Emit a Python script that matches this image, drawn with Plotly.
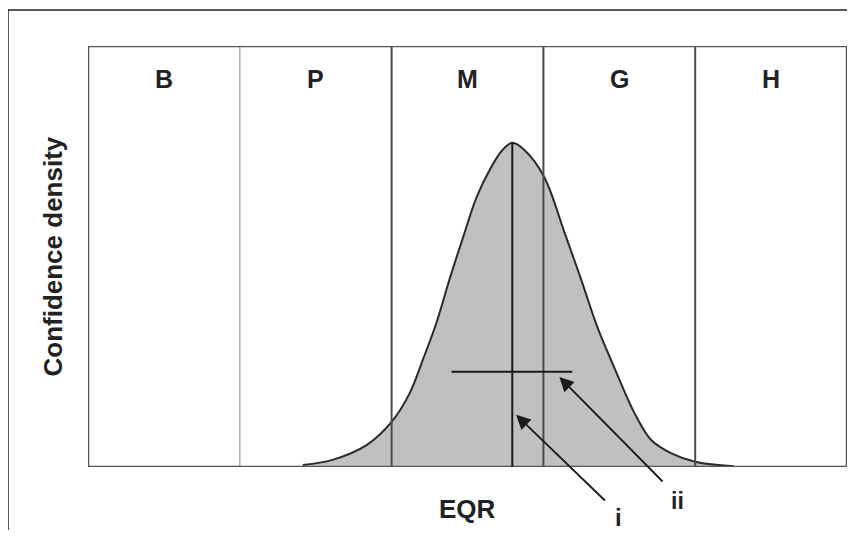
import plotly.graph_objects as go

# EQR scale 0..1, five status classes
classes = ["B", "P", "M", "G", "H"]
class_edges = [0.0, 0.2, 0.4, 0.6, 0.8, 1.0]

# confidence density curve
eqr = [0.283, 0.322, 0.367, 0.400, 0.424, 0.441, 0.459, 0.476, 0.493, 0.512,
       0.529, 0.546, 0.559, 0.575, 0.601, 0.628, 0.650, 0.671, 0.693, 0.720,
       0.742, 0.768, 0.801, 0.851]
density = [0.005, 0.017, 0.052, 0.107, 0.176, 0.254, 0.342, 0.444, 0.539, 0.641,
           0.705, 0.753, 0.770, 0.753, 0.689, 0.556, 0.444, 0.333, 0.238, 0.128,
           0.064, 0.033, 0.012, 0.002]

# (i) observed EQR, (ii) interval around it
eqr_obs = 0.559
peak = 0.770
ci_low, ci_high, ci_level = 0.479, 0.638, 0.226

FONT = "Liberation Sans, Arial, sans-serif"
TXT = "#222222"

fig = go.Figure()
fig.add_trace(go.Scatter(
    x=eqr, y=density, mode="lines", fill="tozeroy",
    fillcolor="#c0c0c0", line=dict(color="#2a2a2a", width=2, shape="spline"),
    hoverinfo="skip", showlegend=False))

shapes = []
for i, e in enumerate(class_edges[1:-1]):
    light = (i == 0)
    shapes.append(dict(type="line", xref="x", yref="y", x0=e, x1=e, y0=0, y1=1,
                       line=dict(color="#b0b0b0" if light else "#4a4a4a",
                                 width=1.5 if light else 2)))
# plot frame
shapes.append(dict(type="rect", xref="x", yref="y", x0=0, x1=1, y0=0, y1=1,
                   line=dict(color="#555555", width=2.5)))
# observed EQR line and interval bar
shapes.append(dict(type="line", xref="x", yref="y", x0=eqr_obs, x1=eqr_obs,
                   y0=0, y1=peak, line=dict(color="#1a1a1a", width=2)))
shapes.append(dict(type="line", xref="x", yref="y", x0=ci_low, x1=ci_high,
                   y0=ci_level, y1=ci_level, line=dict(color="#1a1a1a", width=2)))
# outer figure border (top and left)
shapes.append(dict(type="line", xref="paper", yref="paper", x0=-0.1054, x1=1.02,
                   y0=1.0855, y1=1.0855, line=dict(color="#222222", width=1.5)))
shapes.append(dict(type="line", xref="paper", yref="paper", x0=-0.1054, x1=-0.1054,
                   y0=-0.2, y1=1.0855, line=dict(color="#222222", width=1.5)))


def label(text, x, y, size, xref="x", angle=0):
    return dict(x=x, y=y, xref=xref, yref="paper", text=f"<b>{text}</b>",
                showarrow=False, xanchor="center", yanchor="middle",
                textangle=angle, font=dict(family=FONT, size=size, color=TXT))


annotations = [label(c, (lo + hi) / 2, 0.922, 25)
               for c, lo, hi in zip(classes, class_edges[:-1], class_edges[1:])]

annotations += [
    dict(x=0.564, y=0.124, ax=0.683, ay=-0.083, xref="x", yref="y",
         axref="x", ayref="y", text="", showarrow=True, arrowhead=2,
         arrowsize=1.6, arrowwidth=1.8, arrowcolor="#1a1a1a"),
    dict(x=0.621, y=0.214, ax=0.759, ay=-0.038, xref="x", yref="y",
         axref="x", ayref="y", text="", showarrow=True, arrowhead=2,
         arrowsize=1.6, arrowwidth=1.8, arrowcolor="#1a1a1a"),
    label("i", 0.699, -0.119, 24),
    label("ii", 0.777, -0.080, 23),
    label("EQR", 0.5, -0.100, 26),
    label("Confidence density", -0.0474, 0.500, 26, xref="paper", angle=-90),
]

# page body has an 8px margin, so the figure is sized to fit inside the window
fig.update_layout(
    width=839, height=522,
    margin=dict(l=80, r=0, t=38, b=63),
    paper_bgcolor="white", plot_bgcolor="white",
    xaxis=dict(range=[0, 1], showgrid=False, zeroline=False, showticklabels=False,
               ticks="", showline=False),
    yaxis=dict(range=[0, 1], showgrid=False, zeroline=False, showticklabels=False,
               ticks="", showline=False),
    shapes=shapes, annotations=annotations,
)

fig.write_html("out.html")
